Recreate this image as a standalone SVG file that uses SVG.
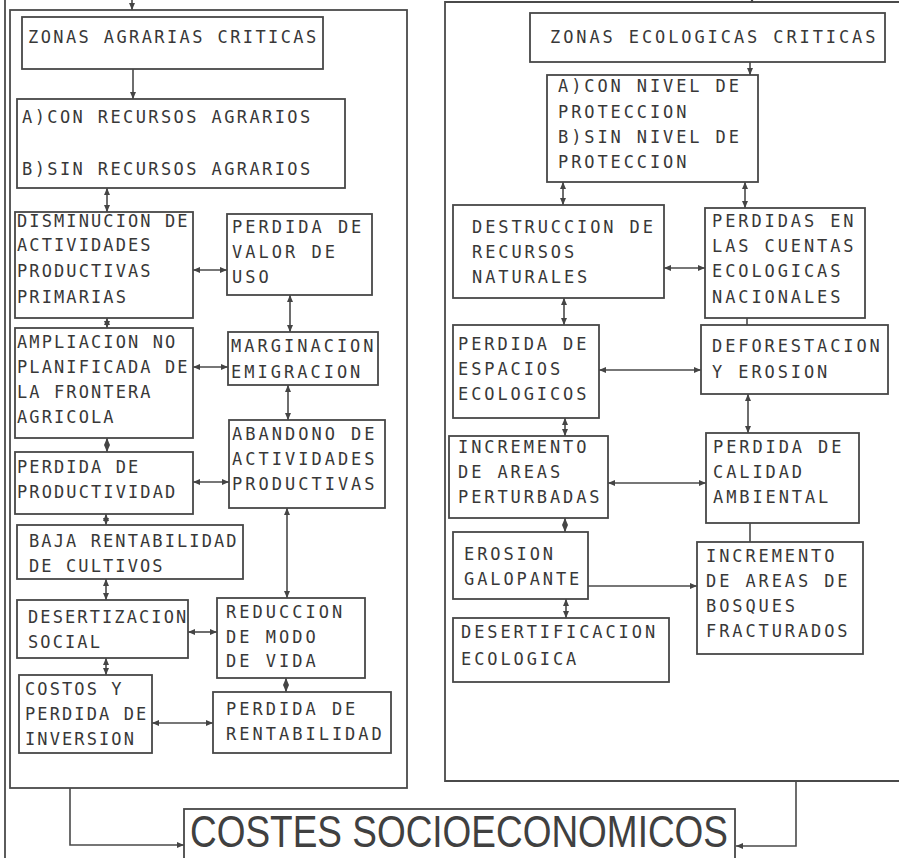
<svg xmlns="http://www.w3.org/2000/svg" width="899" height="858" viewBox="0 0 899 858">
<style>
.bg{fill:#ffffff}
.box{fill:none;stroke:#474747;stroke-width:1.8}
.frame{fill:none;stroke:#4a4a4a;stroke-width:1.8}
.ln{fill:none;stroke:#4a4a4a;stroke-width:1.6}
.t{font-family:"DejaVu Sans Mono","Liberation Mono",monospace;font-size:17px;fill:#383838}
.a{letter-spacing:2.1px}
.b{letter-spacing:2.4px}
.c{letter-spacing:3.0px}
.d{letter-spacing:2.9px}
.big{font-family:"Liberation Sans","DejaVu Sans",sans-serif;font-size:44px;fill:#404040}
</style>
<defs>
<marker id="ar" viewBox="0 0 7 6" refX="7" refY="3" markerWidth="7" markerHeight="6" markerUnits="userSpaceOnUse" orient="auto-start-reverse">
<path d="M0,0 L7,3 L0,6 z" fill="#444"/>
</marker>
</defs>
<rect class="bg" x="0" y="0" width="899" height="858"/>

<g id="frames">
<line class="frame" x1="5" y1="0" x2="5" y2="858"/>
<rect class="frame" x="10" y="10" width="397" height="778"/>
<path class="frame" d="M905,2 H445 V781 H905"/>
</g>

<g id="connectors">
<path class="ln" d="M132,0 V10" marker-end="url(#ar)"/>
<path class="ln" d="M752,-6 V3" marker-end="url(#ar)"/>
<path class="ln" d="M133,69 V99" marker-end="url(#ar)"/>
<path class="ln" d="M107,188 V212" marker-start="url(#ar)" marker-end="url(#ar)"/>
<path class="ln" d="M193,270 H227" marker-start="url(#ar)" marker-end="url(#ar)"/>
<path class="ln" d="M290,295 V332" marker-start="url(#ar)" marker-end="url(#ar)"/>
<path class="ln" d="M107,318 V328" marker-start="url(#ar)" marker-end="url(#ar)"/>
<path class="ln" d="M193,367 H228" marker-start="url(#ar)" marker-end="url(#ar)"/>
<path class="ln" d="M288,385 V420" marker-start="url(#ar)" marker-end="url(#ar)"/>
<path class="ln" d="M107,438 V452" marker-start="url(#ar)" marker-end="url(#ar)"/>
<path class="ln" d="M193,482 H229" marker-start="url(#ar)" marker-end="url(#ar)"/>
<path class="ln" d="M106,514 V525" marker-start="url(#ar)" marker-end="url(#ar)"/>
<path class="ln" d="M106,579 V600" marker-start="url(#ar)" marker-end="url(#ar)"/>
<path class="ln" d="M188,632 H217" marker-start="url(#ar)" marker-end="url(#ar)"/>
<path class="ln" d="M287,508 V598" marker-start="url(#ar)" marker-end="url(#ar)"/>
<path class="ln" d="M106,658 V675" marker-start="url(#ar)" marker-end="url(#ar)"/>
<path class="ln" d="M286,678 V692" marker-start="url(#ar)" marker-end="url(#ar)"/>
<path class="ln" d="M152,723 H213" marker-start="url(#ar)" marker-end="url(#ar)"/>
<path class="ln" d="M750,62 V75" marker-end="url(#ar)"/>
<path class="ln" d="M563,182 V205" marker-start="url(#ar)" marker-end="url(#ar)"/>
<path class="ln" d="M745,182 V208" marker-start="url(#ar)" marker-end="url(#ar)"/>
<path class="ln" d="M664,268 H705" marker-start="url(#ar)" marker-end="url(#ar)"/>
<path class="ln" d="M564,298 V325" marker-start="url(#ar)" marker-end="url(#ar)"/>
<path class="ln" d="M747,318 V325"/>
<path class="ln" d="M599,370 H701" marker-start="url(#ar)" marker-end="url(#ar)"/>
<path class="ln" d="M565,418 V436" marker-start="url(#ar)" marker-end="url(#ar)"/>
<path class="ln" d="M748,394 V433" marker-start="url(#ar)" marker-end="url(#ar)"/>
<path class="ln" d="M608,483 H706" marker-start="url(#ar)" marker-end="url(#ar)"/>
<path class="ln" d="M565,518 V532" marker-start="url(#ar)" marker-end="url(#ar)"/>
<path class="ln" d="M750,523 V542"/>
<path class="ln" d="M588,586 H697" marker-end="url(#ar)"/>
<path class="ln" d="M566,599 V618" marker-start="url(#ar)" marker-end="url(#ar)"/>
<path class="ln" d="M70,788 V845 H184" marker-end="url(#ar)"/>
<path class="ln" d="M796,781 V846 H736" marker-end="url(#ar)"/>
</g>

<g id="zonas-agrarias">
<rect class="box" x="22" y="17" width="301" height="52"/>
<text class="t b" x="28" y="43">ZONAS AGRARIAS CRITICAS</text>
</g>
<g id="recursos-agrarios">
<rect class="box" x="17" y="99" width="328" height="89"/>
<text class="t b" x="22" y="123">A)CON RECURSOS AGRARIOS</text>
<text class="t b" x="22" y="175">B)SIN RECURSOS AGRARIOS</text>
</g>
<g id="disminucion">
<rect class="box" x="15" y="212" width="178" height="106"/>
<text class="t a" x="17" y="227">DISMINUCION DE</text>
<text class="t a" x="17" y="251">ACTIVIDADES</text>
<text class="t a" x="17" y="277">PRODUCTIVAS</text>
<text class="t a" x="17" y="303">PRIMARIAS</text>
</g>
<g id="perdida-valor">
<rect class="box" x="227" y="214" width="145" height="81"/>
<text class="t c" x="232" y="233">PERDIDA DE</text>
<text class="t c" x="232" y="258">VALOR DE</text>
<text class="t c" x="232" y="283">USO</text>
</g>
<g id="marginacion">
<rect class="box" x="228" y="332" width="150" height="53"/>
<text class="t c" x="231" y="352">MARGINACION</text>
<text class="t c" x="231" y="378">EMIGRACION</text>
</g>
<g id="ampliacion">
<rect class="box" x="15" y="328" width="178" height="110"/>
<text class="t a" x="17" y="348">AMPLIACION NO</text>
<text class="t a" x="17" y="373">PLANIFICADA DE</text>
<text class="t a" x="17" y="398">LA FRONTERA</text>
<text class="t a" x="17" y="423">AGRICOLA</text>
</g>
<g id="abandono">
<rect class="box" x="229" y="420" width="156" height="88"/>
<text class="t c" x="232" y="440">ABANDONO DE</text>
<text class="t c" x="232" y="465">ACTIVIDADES</text>
<text class="t c" x="232" y="490">PRODUCTIVAS</text>
</g>
<g id="perdida-productividad">
<rect class="box" x="15" y="452" width="178" height="62"/>
<text class="t a" x="17" y="473">PERDIDA DE</text>
<text class="t a" x="17" y="498">PRODUCTIVIDAD</text>
</g>
<g id="baja-rentabilidad">
<rect class="box" x="17" y="525" width="226" height="54"/>
<text class="t a" x="29" y="547">BAJA RENTABILIDAD</text>
<text class="t a" x="29" y="572">DE CULTIVOS</text>
</g>
<g id="desertizacion">
<rect class="box" x="17" y="600" width="171" height="58"/>
<text class="t a" x="28" y="623">DESERTIZACION</text>
<text class="t a" x="28" y="648">SOCIAL</text>
</g>
<g id="reduccion">
<rect class="box" x="217" y="598" width="148" height="80"/>
<text class="t c" x="226" y="618">REDUCCION</text>
<text class="t c" x="226" y="643">DE MODO</text>
<text class="t c" x="226" y="667">DE VIDA</text>
</g>
<g id="costos">
<rect class="box" x="19" y="675" width="133" height="78"/>
<text class="t a" x="25" y="695">COSTOS Y</text>
<text class="t a" x="25" y="720">PERDIDA DE</text>
<text class="t a" x="25" y="745">INVERSION</text>
</g>
<g id="perdida-rentabilidad">
<rect class="box" x="213" y="692" width="178" height="61"/>
<text class="t c" x="226" y="715">PERDIDA DE</text>
<text class="t c" x="226" y="740">RENTABILIDAD</text>
</g>

<g id="zonas-ecologicas">
<rect class="box" x="530" y="13" width="355" height="49"/>
<text class="t d" x="550" y="43">ZONAS ECOLOGICAS CRITICAS</text>
</g>
<g id="nivel-proteccion">
<rect class="box" x="547" y="75" width="211" height="107"/>
<text class="t d" x="558" y="92">A)CON NIVEL DE</text>
<text class="t d" x="558" y="118">PROTECCION</text>
<text class="t d" x="558" y="143">B)SIN NIVEL DE</text>
<text class="t d" x="558" y="168">PROTECCION</text>
</g>
<g id="destruccion">
<rect class="box" x="453" y="205" width="211" height="93"/>
<text class="t d" x="472" y="233">DESTRUCCION DE</text>
<text class="t d" x="472" y="258">RECURSOS</text>
<text class="t d" x="472" y="283">NATURALES</text>
</g>
<g id="perdidas-cuentas">
<rect class="box" x="705" y="208" width="160" height="110"/>
<text class="t d" x="712" y="227">PERDIDAS EN</text>
<text class="t d" x="712" y="252">LAS CUENTAS</text>
<text class="t d" x="712" y="277">ECOLOGICAS</text>
<text class="t d" x="712" y="303">NACIONALES</text>
</g>
<g id="perdida-espacios">
<rect class="box" x="453" y="325" width="146" height="93"/>
<text class="t d" x="458" y="350">PERDIDA DE</text>
<text class="t d" x="458" y="375">ESPACIOS</text>
<text class="t d" x="458" y="400">ECOLOGICOS</text>
</g>
<g id="deforestacion">
<rect class="box" x="701" y="325" width="187" height="69"/>
<text class="t d" x="712" y="352">DEFORESTACION</text>
<text class="t d" x="712" y="378">Y EROSION</text>
</g>
<g id="areas-perturbadas">
<rect class="box" x="449" y="436" width="159" height="82"/>
<text class="t d" x="458" y="453">INCREMENTO</text>
<text class="t d" x="458" y="478">DE AREAS</text>
<text class="t d" x="458" y="503">PERTURBADAS</text>
</g>
<g id="calidad-ambiental">
<rect class="box" x="706" y="433" width="153" height="90"/>
<text class="t d" x="713" y="453">PERDIDA DE</text>
<text class="t d" x="713" y="478">CALIDAD</text>
<text class="t d" x="713" y="503">AMBIENTAL</text>
</g>
<g id="erosion-galopante">
<rect class="box" x="453" y="532" width="135" height="67"/>
<text class="t d" x="464" y="560">EROSION</text>
<text class="t d" x="464" y="585">GALOPANTE</text>
</g>
<g id="bosques-fracturados">
<rect class="box" x="697" y="542" width="166" height="112"/>
<text class="t d" x="706" y="562">INCREMENTO</text>
<text class="t d" x="706" y="587">DE AREAS DE</text>
<text class="t d" x="706" y="612">BOSQUES</text>
<text class="t d" x="706" y="637">FRACTURADOS</text>
</g>
<g id="desertificacion">
<rect class="box" x="453" y="618" width="216" height="64"/>
<text class="t d" x="461" y="638">DESERTIFICACION</text>
<text class="t d" x="461" y="665">ECOLOGICA</text>
</g>

<g id="costes">
<rect class="box" x="184" y="809" width="551" height="70"/>
<text class="big" x="190" y="847" textLength="538" lengthAdjust="spacingAndGlyphs">COSTES SOCIOECONOMICOS</text>
</g>
</svg>
